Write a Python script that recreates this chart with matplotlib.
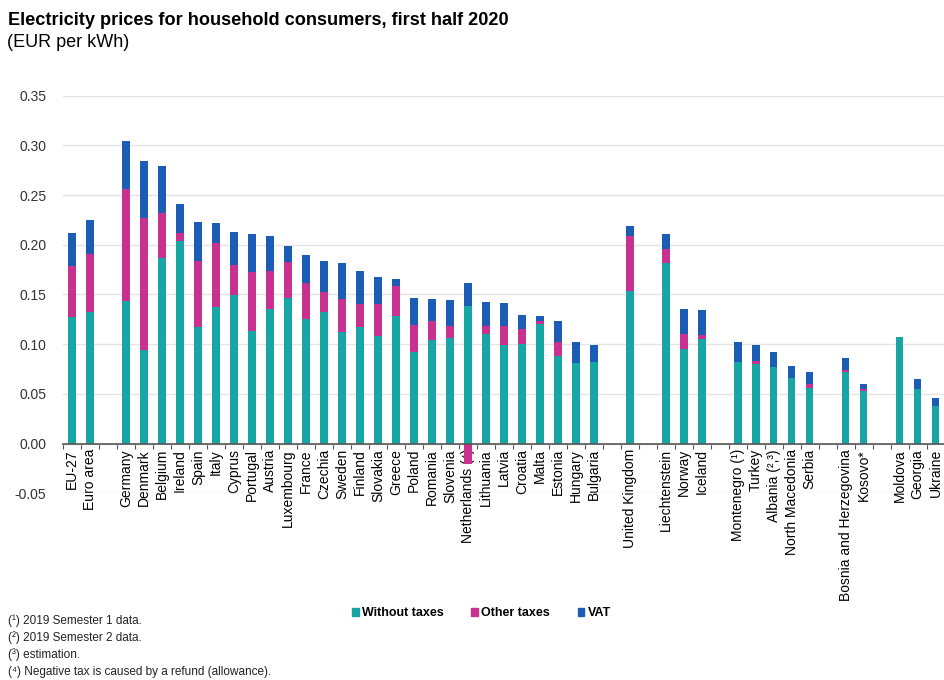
import numpy as np
import matplotlib
matplotlib.use("Agg")
import matplotlib.pyplot as plt
from matplotlib.patches import Patch

plt.rcParams["font.family"] = ["Liberation Sans", "DejaVu Sans"]

# ---------- data (EUR per kWh), groups separated by one empty slot ----------
groups = [
    ["EU-27", "Euro area"],
    ["Germany", "Denmark", "Belgium", "Ireland", "Spain", "Italy", "Cyprus",
     "Portugal", "Austria", "Luxembourg", "France", "Czechia", "Sweden",
     "Finland", "Slovakia", "Greece", "Poland", "Romania", "Slovenia",
     "Netherlands (⁴)", "Lithuania", "Latvia", "Croatia", "Malta", "Estonia",
     "Hungary", "Bulgaria"],
    ["United Kingdom"],
    ["Liechtenstein", "Norway", "Iceland"],
    ["Montenegro (¹)", "Turkey", "Albania (²,³)", "North Macedonia", "Serbia"],
    ["Bosnia and Herzegovina", "Kosovo*"],
    ["Moldova", "Georgia", "Ukraine"],
]

without_taxes = [0.127, 0.132,
                 0.143, 0.094, 0.187, 0.204, 0.117, 0.137, 0.149, 0.113, 0.135,
                 0.146, 0.125, 0.132, 0.112, 0.117, 0.108, 0.128, 0.092, 0.104,
                 0.106, 0.138, 0.110, 0.099, 0.100, 0.120, 0.088, 0.081, 0.082,
                 0.153,
                 0.182, 0.095, 0.105,
                 0.082, 0.080, 0.077, 0.066, 0.056,
                 0.072, 0.053,
                 0.107, 0.055, 0.038]
other_taxes = [0.052, 0.059,
               0.113, 0.133, 0.045, 0.008, 0.067, 0.065, 0.031, 0.060, 0.039,
               0.037, 0.037, 0.020, 0.033, 0.023, 0.032, 0.030, 0.027, 0.019,
               0.012, -0.021, 0.008, 0.019, 0.015, 0.003, 0.014, 0.0, 0.0,
               0.056,
               0.014, 0.015, 0.004,
               0.0, 0.003, 0.0, 0.0, 0.004,
               0.002, 0.002,
               0.0, 0.0, 0.0]
vat = [0.033, 0.034,
       0.048, 0.057, 0.047, 0.029, 0.039, 0.020, 0.033, 0.038, 0.035,
       0.016, 0.028, 0.032, 0.037, 0.034, 0.028, 0.008, 0.027, 0.022,
       0.026, 0.024, 0.024, 0.023, 0.014, 0.005, 0.021, 0.021, 0.017,
       0.010,
       0.015, 0.025, 0.025,
       0.020, 0.016, 0.015, 0.012, 0.012,
       0.012, 0.005,
       0.0, 0.010, 0.008]

footnotes = ["(¹) 2019 Semester 1 data.",
             "(²) 2019 Semester 2 data.",
             "(³) estimation.",
             "(⁴) Negative tax is caused by a refund (allowance)."]

C = {"Without taxes": "#17A6A3", "Other taxes": "#C8318E", "VAT": "#1B5CB4"}

# ---------- positions ----------
labels, x = [], []
pos = 0
for g in groups:
    for name in g:
        labels.append(name)
        x.append(pos)
        pos += 1
    pos += 1
n_slots = pos - 1
x = np.array(x, float)
wt = np.array(without_taxes)
ot = np.array(other_taxes)
va = np.array(vat)

fig = plt.figure(figsize=(9.44, 6.8), dpi=100)
ax = fig.add_axes([0.0667, 0.2747, 0.934, 0.5846])

w = 0.42
pos_ot = np.clip(ot, 0, None)
neg_ot = np.clip(ot, None, 0)
ax.bar(x, wt, w, color=C["Without taxes"], zorder=3)
ax.bar(x, pos_ot, w, bottom=wt, color=C["Other taxes"], zorder=3)
ax.bar(x, neg_ot, w, color=C["Other taxes"], zorder=3)
ax.bar(x, va, w, bottom=wt + pos_ot, color=C["VAT"], zorder=3)

ax.set_xlim(-0.5, n_slots - 0.5)
ax.set_ylim(-0.05, 0.35)
yt = np.arange(-0.05, 0.351, 0.05)
ax.set_yticks(yt)
ax.set_yticklabels([f"{v:.2f}" for v in yt], fontsize=10, color="#333333")
ax.yaxis.grid(True, color="#e4e4e4", linewidth=1, zorder=0)
ax.tick_params(axis="y", length=0, pad=12)

ax.set_xticks(x)
ax.set_xticks(np.arange(-0.5, n_slots, 1.0), minor=True)
ax.set_xticklabels(labels, fontsize=10.5, color="#222222")
ax.tick_params(axis="x", which="major", length=0, pad=4, labelrotation=90)
ax.tick_params(axis="x", which="minor", length=3.5, width=0.8, color="#555555", direction="out")
for t in ax.get_xticklabels():
    t.set_rotation(90)
    t.set_va("top")
    t.set_ha("center")

for s in ["top", "right", "left"]:
    ax.spines[s].set_visible(False)
ax.spines["bottom"].set_position(("data", 0))
ax.spines["bottom"].set_color("#555555")
ax.spines["bottom"].set_linewidth(1.2)
ax.spines["bottom"].set_zorder(4)
ax.set_axisbelow(True)

fig.text(0.009, 0.982, "Electricity prices for household consumers, first half 2020",
         fontsize=13.1, fontweight="bold", va="top", ha="left")
fig.text(0.007, 0.950, "(EUR per kWh)", fontsize=13, va="top", ha="left")

for i, t in enumerate(footnotes):
    fig.text(0.008, 0.087 - i * 0.025, t, fontsize=8.5, va="center", ha="left", color="#222222")

handles = [Patch(color=c, label=k) for k, c in C.items()]
fig.legend(handles=handles, loc="center", bbox_to_anchor=(0.51, 0.098), ncol=3,
           frameon=False, handlelength=0.55, handleheight=0.55, handletextpad=0.25,
           columnspacing=2.2, prop={"weight": "bold", "size": 9})

fig.savefig("out.png", dpi=100)
